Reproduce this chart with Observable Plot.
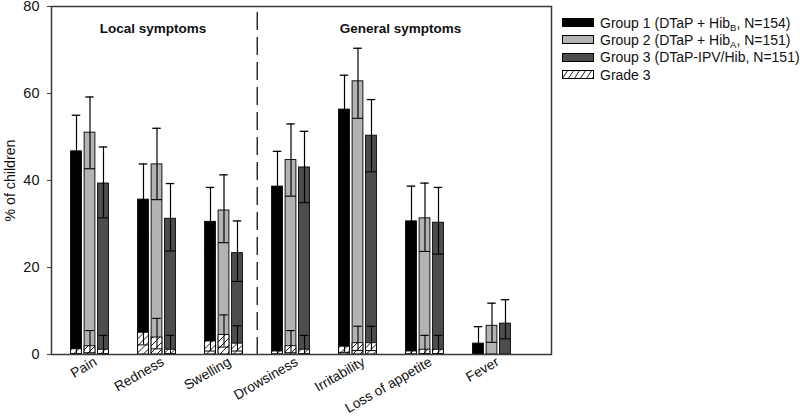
<!DOCTYPE html>
<html><head><meta charset="utf-8">
<script src="https://cdn.jsdelivr.net/npm/d3@7"></script>
<script src="https://cdn.jsdelivr.net/npm/@observablehq/plot@0.6"></script>
<style>
body{margin:0;background:#fff;font-family:"Liberation Sans",Arial,sans-serif;}
#wrap{position:relative;width:800px;height:417px;overflow:hidden;}
#legend{position:absolute;left:562px;top:14px;font-size:14px;color:#111;}
.row{display:flex;align-items:center;height:17.3px;white-space:nowrap;}
.sw{width:32px;height:9px;margin-right:6px;display:block;}
sub{font-size:9.5px;vertical-align:-3px;line-height:0;}
</style></head><body><div id="wrap"><div id="legend"></div></div>
<script>
const categories = ["Pain","Redness","Swelling","Drowsiness","Irritability","Loss of appetite","Fever"];
const groupLabels = ["Group 1 (DTaP + Hib<sub>B</sub>, N=154)","Group 2 (DTaP + Hib<sub>A</sub>, N=151)","Group 3 (DTaP-IPV/Hib, N=151)"];
const grade3Label = "Grade 3";
const sectionTitles = ["Local symptoms","General symptoms"];
const yLabel = "% of children";

// all grades: mean, lower CI, upper CI (%)
const g1Mean = [46.7, 35.6, 30.5, 38.6, 56.3, 30.6, 2.5];
const g1Lo   = [38.6, 28.0, 23.3, 31.0, 48.2, 23.6, 0.8];
const g1Up   = [55.0, 43.8, 38.4, 46.7, 64.2, 38.7, 6.4];
const g2Mean = [51.0, 43.7, 33.1, 44.7, 62.8, 31.3, 6.6];
const g2Lo   = [42.7, 35.6, 25.7, 36.4, 54.3, 23.7, 2.8];
const g2Up   = [59.2, 52.0, 41.3, 53.0, 70.4, 39.4, 11.8];
const g3Mean = [39.3, 31.2, 23.3, 43.0, 50.3, 30.3, 7.1];
const g3Lo   = [31.4, 23.8, 16.8, 34.9, 42.0, 23.1, 3.6];
const g3Up   = [47.7, 39.3, 30.7, 51.3, 58.6, 38.4, 12.6];

// grade 3: mean, lower CI, upper CI (%)
const g1G3   = [1.2, 5.0, 3.0, 0.7, 1.8, 0.7, 0];
const g1G3Lo = [0.2, 2.2, 0.8, 0.1, 0.5, 0.1, 0];
const g1G3Up = [4.4, 9.0, 6.7, 3.9, 4.9, 3.9, 0];
const g2G3   = [1.9, 3.9, 4.5, 1.9, 2.6, 1.1, 0];
const g2G3Lo = [0.4, 1.3, 1.7, 0.4, 0.9, 0.2, 0];
const g2G3Up = [5.5, 8.3, 9.1, 5.5, 6.5, 4.4, 0];
const g3G3   = [1.1, 1.1, 2.5, 1.1, 2.6, 1.1, 0];
const g3G3Lo = [0.2, 0.2, 0.8, 0.2, 0.9, 0.2, 0];
const g3G3Up = [4.4, 4.4, 6.6, 4.4, 6.5, 4.4, 0];

const yTicks = [0, 20, 40, 60, 80];
const groupFills = ["#000000", "#b3b3b3", "#4d4d4d"];

const series = [
  {mean:g1Mean, lo:g1Lo, up:g1Up, g3:g1G3, g3lo:g1G3Lo, g3up:g1G3Up},
  {mean:g2Mean, lo:g2Lo, up:g2Up, g3:g2G3, g3lo:g2G3Lo, g3up:g2G3Up},
  {mean:g3Mean, lo:g3Lo, up:g3Up, g3:g3G3, g3lo:g3G3Lo, g3up:g3G3Up}
];

const W = 800, H = 417;
const mL = 51, mR = 249, mT = 6, mB = 63;
const step = 67.5;             // band width per symptom
const x0 = 88 - step/2;        // left edge of first band
const barW = 11.3, gap = 13.5, capW = 9;
const barInset = (step - barW)/2, capInset = (step - capW)/2;

const marks = [];
series.forEach((s, j) => {
  const rows = categories.map((c, i) => ({cat:c, mean:s.mean[i], lo:s.lo[i], up:s.up[i],
    g3:s.g3[i], g3lo:s.g3lo[i], g3up:s.g3up[i]}));
  const dx = (j - 1) * gap;
  const g3rows = rows.filter(d => d.g3 > 0);
  marks.push(
    Plot.barY(rows, {x:"cat", y:"mean", fill:groupFills[j], stroke:"#000", strokeWidth:0.9, insetLeft:barInset, insetRight:barInset, dx}),
    Plot.ruleX(rows, {x:"cat", y1:"lo", y2:"up", stroke:"#000", strokeWidth:1.2, dx}),
    Plot.tickY(rows, {x:"cat", y:"lo", stroke:"#000", strokeWidth:1.1, insetLeft:barInset, insetRight:barInset, dx}),
    Plot.tickY(rows, {x:"cat", y:"up", stroke:"#000", strokeWidth:1.3, insetLeft:capInset, insetRight:capInset, dx}),
    Plot.barY(g3rows, {x:"cat", y:"g3", fill:"url(#hatch)", stroke:"#000", strokeWidth:0.9, insetLeft:barInset, insetRight:barInset, dx}),
    Plot.ruleX(g3rows, {x:"cat", y1:"g3lo", y2:"g3up", stroke:"#000", strokeWidth:1.1, dx}),
    Plot.tickY(g3rows, {x:"cat", y:"g3lo", stroke:"#000", strokeWidth:1, insetLeft:barInset, insetRight:barInset, dx}),
    Plot.tickY(g3rows, {x:"cat", y:"g3up", stroke:"#000", strokeWidth:1.1, insetLeft:capInset, insetRight:capInset, dx})
  );
});

const svg = Plot.plot({
  width: W, height: H,
  marginLeft: mL, marginRight: mR, marginTop: mT, marginBottom: mB,
  style: {fontFamily: '"Liberation Sans", Arial, sans-serif', fontSize: "14px", color: "#111", background: "#fff"},
  x: {type:"band", domain: categories, range: [x0, x0 + step*categories.length], padding: 0, axis: null},
  y: {domain: [0, 80], axis: null},
  marks: [
    // section divider between Swelling and Drowsiness
    Plot.ruleX([categories[3]], {x: d => d, y1: 78.6, y2: 0, dx: -step/2, stroke:"#222", strokeWidth:1.4, strokeDasharray:"18,7"}),
    ...marks,
    Plot.text([sectionTitles[0]], {x: () => categories[1], frameAnchor:"top", dy: 17, dx: -4, fontWeight:"bold", fontSize: 13.5, fill:"#111"}),
    Plot.text([sectionTitles[1]], {x: () => categories[4], frameAnchor:"top", dy: 17, dx: 42.5, fontWeight:"bold", fontSize: 13.5, fill:"#111"}),
    Plot.frame({stroke:"#3a3a3a", strokeWidth:1.5}),
    Plot.axisY({ticks: yTicks, tickSize: 4, tickPadding: 8, label: null, fontSize: 14.5, stroke:"#3a3a3a", fill:"#111"}),
    Plot.text(categories, {x: d => d, frameAnchor:"bottom", rotate:-30, textAnchor:"end", lineAnchor:"top", dx: 3, dy: 1.5, fontSize: 13.8, fill:"#111"}),
    Plot.text([yLabel], {frameAnchor:"left", rotate:-90, textAnchor:"middle", dx:-41, fontSize:14.2, fill:"#111"})
  ]
});

// hatch pattern for grade 3 bars
const defs = d3.select(svg).insert("defs", ":first-child");
const pat = defs.append("pattern").attr("id","hatch").attr("patternUnits","userSpaceOnUse").attr("width",7).attr("height",7);
pat.append("rect").attr("width",7).attr("height",7).attr("fill","#fff");
pat.append("path").attr("d","M-1,1 l2,-2 M0,7 l7,-7 M6,8 l2,-2").attr("stroke","#000").attr("stroke-width",0.9);

document.getElementById("wrap").prepend(svg);

// legend
const legend = d3.select("#legend");
groupLabels.forEach((lab, j) => {
  const r = legend.append("div").attr("class","row");
  r.append("span").attr("class","sw").style("background", groupFills[j]).style("border","1px solid #000").style("box-sizing","border-box");
  r.append("span").html(lab);
});
const r3 = legend.append("div").attr("class","row");
const s3 = r3.append("svg").attr("class","sw").attr("width",32).attr("height",9);
const p2 = s3.append("defs").append("pattern").attr("id","hatchL").attr("patternUnits","userSpaceOnUse").attr("width",6).attr("height",9);
p2.append("path").attr("d","M0,9 l6,-9").attr("stroke","#000").attr("stroke-width",0.9);
s3.append("rect").attr("x",0.5).attr("y",0.5).attr("width",31).attr("height",8).attr("fill","url(#hatchL)").attr("stroke","#000");
r3.append("span").text(grade3Label);
</script>
</body></html>
